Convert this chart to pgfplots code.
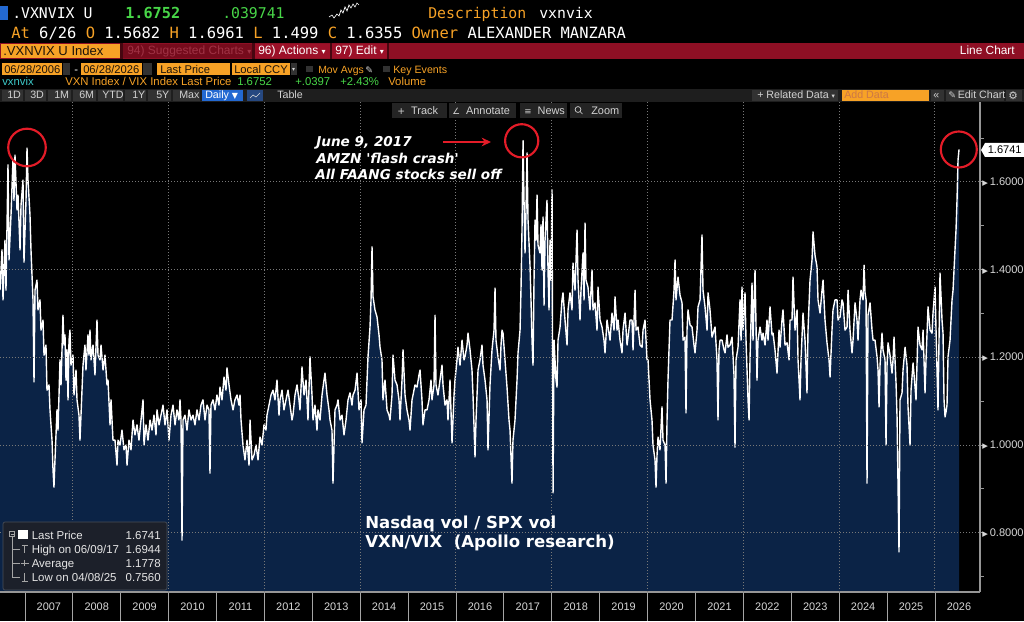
\documentclass[border=0pt]{standalone}
\usepackage{pgfplots}
\pgfplotsset{compat=1.18}
\usepackage{pgfplotstable}
\usepackage{fontspec}
\setmainfont{Liberation Sans}
\newfontfamily\mono{DejaVu Sans Mono}
\newfontfamily\dvs{DejaVu Sans}[Ligatures=TeXOff]
\usetikzlibrary{arrows.meta}
\newcommand{\fs}[1]{\fontsize{#1}{#1}\selectfont}
\newcommand{\tri}{{\dvs\fontsize{5.5}{5.5}\selectfont\char"25B6}\hspace{1.4pt}}
\definecolor{navy}{RGB}{11,35,70}
\definecolor{bbor}{RGB}{247,162,38}
\definecolor{bbgreen}{RGB}{72,214,72}
\definecolor{bbred}{RGB}{142,15,36}
\definecolor{bbred2}{RGB}{156,16,40}
\definecolor{bbsep}{RGB}{70,6,16}
\definecolor{bbdim}{RGB}{118,11,28}
\definecolor{bbdimtxt}{RGB}{160,50,68}
\definecolor{bbcyan}{RGB}{60,200,200}
\definecolor{bbblue}{RGB}{35,105,210}
\definecolor{bbicon}{RGB}{38,72,128}
\definecolor{gridc}{RGB}{120,120,120}
\definecolor{lab}{RGB}{215,215,215}
\definecolor{circ}{RGB}{228,28,40}
\definecolor{btn}{RGB}{50,50,50}
\definecolor{btn2}{RGB}{36,36,36}
\definecolor{bar}{RGB}{30,30,30}
\definecolor{btntxt}{RGB}{210,210,210}
\definecolor{darktxt}{RGB}{30,20,10}
\definecolor{addtxt}{RGB}{205,120,70}
\definecolor{axc}{RGB}{150,150,150}
\definecolor{tickc}{RGB}{165,165,165}
\definecolor{legbg}{RGB}{28,32,42}
\definecolor{legbd}{RGB}{72,78,88}
\definecolor{legtxt}{RGB}{230,230,230}
\tikzset{gridline/.style={draw=gridc, dash pattern=on 0.75pt off 1.5pt, line width=0.75pt}}

\pgfplotstableread[row sep=\\]{
x y\\
2006.480 1.353\\ 2006.522 1.445\\ 2006.543 1.331\\ 2006.584 1.467\\ 2006.605 1.353\\ 2006.647 1.639\\ 2006.668 1.422\\ 2006.710 1.525\\ 2006.751 1.650\\ 2006.772 1.558\\
2006.793 1.661\\ 2006.835 1.536\\ 2006.856 1.570\\ 2006.898 1.445\\ 2006.919 1.547\\ 2006.960 1.604\\ 2006.981 1.417\\ 2007.023 1.558\\ 2007.044 1.677\\ 2007.065 1.604\\
2007.106 1.525\\ 2007.127 1.445\\ 2007.169 1.331\\ 2007.190 1.144\\ 2007.211 1.353\\ 2007.252 1.376\\ 2007.273 1.308\\ 2007.315 1.331\\ 2007.336 1.262\\ 2007.378 1.285\\
2007.399 1.205\\ 2007.440 1.228\\ 2007.461 1.125\\ 2007.503 1.137\\ 2007.524 1.080\\ 2007.566 1.011\\ 2007.587 0.943\\ 2007.607 0.904\\ 2007.628 0.966\\ 2007.670 1.080\\
2007.691 1.034\\ 2007.733 1.194\\ 2007.754 1.137\\ 2007.795 1.296\\ 2007.816 1.228\\ 2007.837 1.251\\ 2007.858 1.148\\ 2007.879 1.217\\ 2007.900 1.103\\ 2007.921 1.239\\
2007.941 1.262\\ 2007.962 1.182\\ 2008.004 1.205\\ 2008.025 1.114\\ 2008.067 1.171\\ 2008.088 1.103\\ 2008.129 1.068\\ 2008.150 1.011\\ 2008.192 1.125\\ 2008.213 1.182\\
2008.254 1.228\\ 2008.275 1.171\\ 2008.317 1.251\\ 2008.338 1.205\\ 2008.359 1.262\\ 2008.380 1.194\\ 2008.422 1.228\\ 2008.463 1.160\\ 2008.505 1.285\\ 2008.526 1.205\\
2008.568 1.194\\ 2008.589 1.228\\ 2008.631 1.171\\ 2008.672 1.205\\ 2008.714 1.137\\ 2008.735 1.148\\ 2008.777 1.046\\ 2008.798 1.103\\ 2008.839 1.011\\ 2008.881 1.011\\
2008.923 0.954\\ 2008.944 1.011\\ 2008.985 1.000\\ 2009.027 1.034\\ 2009.069 0.989\\ 2009.111 1.000\\ 2009.132 0.954\\ 2009.173 1.011\\ 2009.215 0.989\\ 2009.257 1.057\\
2009.298 1.023\\ 2009.340 1.046\\ 2009.382 1.011\\ 2009.424 1.057\\ 2009.466 1.103\\ 2009.487 1.000\\ 2009.528 1.046\\ 2009.570 1.011\\ 2009.612 1.057\\ 2009.654 1.034\\
2009.695 1.068\\ 2009.737 1.023\\ 2009.758 1.080\\ 2009.800 1.046\\ 2009.841 1.068\\ 2009.883 1.091\\ 2009.925 1.046\\ 2009.967 1.080\\ 2010.008 1.011\\ 2010.050 1.068\\
2010.092 1.091\\ 2010.134 1.046\\ 2010.175 1.080\\ 2010.217 1.057\\ 2010.238 1.103\\ 2010.259 1.057\\ 2010.280 0.783\\ 2010.301 1.057\\ 2010.342 1.068\\ 2010.384 1.034\\
2010.426 1.080\\ 2010.468 1.057\\ 2010.509 1.068\\ 2010.551 1.046\\ 2010.593 1.080\\ 2010.635 1.057\\ 2010.676 1.091\\ 2010.718 1.103\\ 2010.760 1.057\\ 2010.802 1.091\\
2010.843 1.080\\ 2010.864 0.936\\ 2010.885 1.091\\ 2010.927 1.103\\ 2010.969 1.080\\ 2011.010 1.114\\ 2011.052 1.091\\ 2011.073 1.132\\ 2011.115 1.103\\ 2011.157 1.155\\
2011.198 1.125\\ 2011.219 1.176\\ 2011.261 1.137\\ 2011.303 1.103\\ 2011.345 1.080\\ 2011.386 1.103\\ 2011.428 1.114\\ 2011.470 1.091\\ 2011.491 1.114\\ 2011.512 1.057\\
2011.553 1.000\\ 2011.595 0.966\\ 2011.637 1.011\\ 2011.679 0.954\\ 2011.700 1.057\\ 2011.741 0.966\\ 2011.783 0.977\\ 2011.825 1.000\\ 2011.867 0.966\\ 2011.908 1.018\\
2011.950 1.000\\ 2011.992 1.046\\ 2012.033 1.034\\ 2012.054 1.068\\ 2012.096 1.091\\ 2012.138 1.114\\ 2012.180 1.125\\ 2012.221 1.103\\ 2012.263 1.148\\ 2012.305 1.068\\
2012.326 1.103\\ 2012.368 1.125\\ 2012.409 1.080\\ 2012.451 1.103\\ 2012.493 1.125\\ 2012.535 1.091\\ 2012.576 1.057\\ 2012.597 1.068\\ 2012.639 1.114\\ 2012.681 1.137\\
2012.722 1.103\\ 2012.743 1.080\\ 2012.785 1.178\\ 2012.827 1.114\\ 2012.869 1.148\\ 2012.910 1.057\\ 2012.952 1.201\\ 2012.994 1.114\\ 2013.015 1.057\\ 2013.056 1.091\\
2013.098 1.034\\ 2013.119 1.080\\ 2013.161 1.057\\ 2013.203 1.114\\ 2013.244 1.148\\ 2013.265 1.164\\ 2013.307 1.114\\ 2013.349 1.080\\ 2013.370 1.057\\ 2013.411 1.034\\
2013.432 0.913\\ 2013.474 1.080\\ 2013.516 1.091\\ 2013.537 1.103\\ 2013.579 1.057\\ 2013.620 1.068\\ 2013.662 1.023\\ 2013.704 1.057\\ 2013.746 1.103\\ 2013.787 1.119\\
2013.829 1.091\\ 2013.850 1.114\\ 2013.892 1.125\\ 2013.934 1.164\\ 2013.975 1.080\\ 2014.017 1.103\\ 2014.038 1.005\\ 2014.080 1.080\\ 2014.121 1.091\\ 2014.163 1.201\\
2014.205 1.269\\ 2014.226 1.331\\ 2014.247 1.452\\ 2014.268 1.338\\ 2014.309 1.308\\ 2014.351 1.292\\ 2014.393 1.251\\ 2014.414 1.223\\ 2014.455 1.194\\ 2014.476 1.103\\
2014.518 1.148\\ 2014.560 1.080\\ 2014.602 1.068\\ 2014.622 1.057\\ 2014.664 1.114\\ 2014.685 1.205\\ 2014.727 1.148\\ 2014.769 1.137\\ 2014.810 1.103\\ 2014.831 1.057\\
2014.873 1.148\\ 2014.894 1.217\\ 2014.936 1.114\\ 2014.977 1.080\\ 2015.019 1.057\\ 2015.040 1.034\\ 2015.082 1.103\\ 2015.103 1.114\\ 2015.144 1.137\\ 2015.186 1.132\\
2015.228 1.160\\ 2015.249 1.171\\ 2015.290 1.103\\ 2015.311 1.046\\ 2015.353 1.080\\ 2015.395 1.080\\ 2015.437 1.103\\ 2015.478 1.148\\ 2015.499 1.103\\ 2015.541 1.137\\
2015.562 1.296\\ 2015.583 1.137\\ 2015.624 1.114\\ 2015.666 1.148\\ 2015.708 1.182\\ 2015.729 1.137\\ 2015.771 1.091\\ 2015.812 1.103\\ 2015.833 1.057\\ 2015.875 1.148\\
2015.917 1.005\\ 2015.959 1.114\\ 2015.979 1.148\\ 2016.021 1.194\\ 2016.042 1.223\\ 2016.084 1.182\\ 2016.126 1.239\\ 2016.167 1.194\\ 2016.188 1.201\\ 2016.230 1.228\\
2016.251 1.255\\ 2016.293 1.217\\ 2016.334 1.171\\ 2016.355 1.114\\ 2016.397 0.973\\ 2016.418 1.057\\ 2016.460 1.171\\ 2016.501 1.194\\ 2016.543 1.228\\ 2016.564 1.182\\
2016.606 1.148\\ 2016.648 1.103\\ 2016.668 0.989\\ 2016.710 1.137\\ 2016.752 1.217\\ 2016.794 1.262\\ 2016.815 1.358\\ 2016.835 1.239\\ 2016.877 1.201\\ 2016.919 1.171\\
2016.940 1.228\\ 2016.961 1.262\\ 2016.982 1.255\\ 2017.023 1.194\\ 2017.065 1.132\\ 2017.107 1.057\\ 2017.128 1.034\\ 2017.169 0.913\\ 2017.190 1.011\\ 2017.232 1.057\\
2017.274 1.148\\ 2017.295 1.210\\ 2017.337 1.262\\ 2017.358 1.360\\ 2017.378 1.490\\ 2017.400 1.694\\ 2017.420 1.558\\ 2017.441 1.438\\ 2017.462 1.536\\ 2017.483 1.666\\
2017.504 1.513\\ 2017.545 1.410\\ 2017.566 1.331\\ 2017.587 1.239\\ 2017.608 1.182\\ 2017.629 1.376\\ 2017.650 1.513\\ 2017.671 1.467\\ 2017.692 1.570\\ 2017.712 1.456\\
2017.754 1.438\\ 2017.775 1.502\\ 2017.796 1.399\\ 2017.817 1.520\\ 2017.838 1.319\\ 2017.859 1.467\\ 2017.900 1.558\\ 2017.921 1.399\\ 2017.942 1.308\\ 2017.963 1.467\\
2017.984 1.376\\ 2018.005 1.582\\ 2018.026 0.891\\ 2018.047 1.239\\ 2018.088 1.148\\ 2018.109 1.132\\ 2018.130 1.239\\ 2018.172 1.269\\ 2018.213 1.331\\ 2018.234 1.347\\
2018.276 1.285\\ 2018.318 1.228\\ 2018.339 1.308\\ 2018.380 1.347\\ 2018.422 1.308\\ 2018.443 1.415\\ 2018.485 1.353\\ 2018.527 1.490\\ 2018.548 1.376\\ 2018.589 1.285\\
2018.610 1.353\\ 2018.652 1.438\\ 2018.673 1.331\\ 2018.694 1.506\\ 2018.714 1.376\\ 2018.756 1.360\\ 2018.798 1.308\\ 2018.840 1.399\\ 2018.861 1.308\\ 2018.902 1.324\\
2018.944 1.262\\ 2018.965 1.360\\ 2019.007 1.285\\ 2019.049 1.269\\ 2019.090 1.239\\ 2019.111 1.210\\ 2019.153 1.285\\ 2019.174 1.269\\ 2019.216 1.239\\ 2019.257 1.301\\
2019.299 1.262\\ 2019.320 1.338\\ 2019.362 1.262\\ 2019.383 1.285\\ 2019.424 1.239\\ 2019.466 1.210\\ 2019.487 1.262\\ 2019.529 1.301\\ 2019.571 1.228\\ 2019.592 1.246\\
2019.633 1.285\\ 2019.675 1.285\\ 2019.696 1.217\\ 2019.738 1.353\\ 2019.759 1.262\\ 2019.800 1.269\\ 2019.842 1.228\\ 2019.884 1.223\\ 2019.905 1.262\\ 2019.946 1.285\\
2019.988 1.194\\ 2020.009 1.194\\ 2020.051 1.103\\ 2020.092 1.057\\ 2020.113 1.000\\ 2020.155 0.966\\ 2020.176 0.904\\ 2020.197 0.977\\ 2020.218 1.018\\ 2020.259 0.989\\
2020.301 1.087\\ 2020.322 1.011\\ 2020.364 1.000\\ 2020.385 0.913\\ 2020.406 1.057\\ 2020.426 1.148\\ 2020.468 1.285\\ 2020.510 1.285\\ 2020.552 1.353\\ 2020.573 1.422\\
2020.593 1.331\\ 2020.635 1.383\\ 2020.677 1.342\\ 2020.719 1.324\\ 2020.740 1.239\\ 2020.781 1.246\\ 2020.802 1.073\\ 2020.823 1.262\\ 2020.844 1.308\\ 2020.886 1.274\\
2020.928 1.269\\ 2020.969 1.228\\ 2020.990 1.210\\ 2021.032 1.262\\ 2021.053 1.315\\ 2021.095 1.331\\ 2021.136 1.479\\ 2021.157 1.353\\ 2021.199 1.315\\ 2021.241 1.262\\
2021.262 1.347\\ 2021.303 1.308\\ 2021.345 1.246\\ 2021.387 1.262\\ 2021.408 1.269\\ 2021.449 1.194\\ 2021.470 1.057\\ 2021.491 1.217\\ 2021.512 1.239\\ 2021.554 1.239\\
2021.596 1.217\\ 2021.617 1.210\\ 2021.658 1.251\\ 2021.679 1.223\\ 2021.721 1.228\\ 2021.763 1.246\\ 2021.804 1.160\\ 2021.825 0.995\\ 2021.846 1.194\\ 2021.888 1.223\\
2021.930 1.331\\ 2021.951 1.239\\ 2021.971 1.360\\ 2021.992 1.262\\ 2022.034 1.347\\ 2022.055 1.239\\ 2022.097 1.103\\ 2022.118 1.057\\ 2022.138 1.194\\ 2022.180 1.369\\
2022.201 1.239\\ 2022.243 1.399\\ 2022.284 1.148\\ 2022.305 1.239\\ 2022.347 1.269\\ 2022.389 1.239\\ 2022.410 1.255\\ 2022.452 1.228\\ 2022.493 1.285\\ 2022.514 1.239\\
2022.556 1.315\\ 2022.598 1.251\\ 2022.619 1.255\\ 2022.660 1.217\\ 2022.702 1.164\\ 2022.744 1.262\\ 2022.765 1.223\\ 2022.806 1.285\\ 2022.827 1.308\\ 2022.869 1.228\\
2022.911 1.233\\ 2022.953 1.194\\ 2022.974 1.285\\ 2023.015 1.285\\ 2023.036 1.383\\ 2023.078 1.262\\ 2023.120 1.308\\ 2023.141 1.194\\ 2023.182 1.103\\ 2023.203 1.194\\
2023.245 1.301\\ 2023.287 1.239\\ 2023.328 1.119\\ 2023.349 1.262\\ 2023.391 1.376\\ 2023.433 1.422\\ 2023.454 1.486\\ 2023.495 1.433\\ 2023.537 1.406\\ 2023.558 1.331\\
2023.600 1.301\\ 2023.642 1.353\\ 2023.663 1.376\\ 2023.704 1.285\\ 2023.746 1.233\\ 2023.788 1.194\\ 2023.809 1.155\\ 2023.850 1.262\\ 2023.871 1.308\\ 2023.913 1.331\\
2023.955 1.331\\ 2023.976 1.285\\ 2024.018 1.292\\ 2024.059 1.331\\ 2024.080 1.324\\ 2024.122 1.262\\ 2024.164 1.269\\ 2024.185 1.353\\ 2024.226 1.262\\ 2024.268 1.210\\
2024.289 1.239\\ 2024.331 1.324\\ 2024.372 1.285\\ 2024.393 1.239\\ 2024.435 1.331\\ 2024.456 1.353\\ 2024.498 1.331\\ 2024.519 1.410\\ 2024.540 1.347\\ 2024.561 1.331\\
2024.581 0.913\\ 2024.602 1.296\\ 2024.644 1.324\\ 2024.686 1.262\\ 2024.707 1.239\\ 2024.748 1.239\\ 2024.790 1.201\\ 2024.811 1.171\\ 2024.832 1.087\\ 2024.853 1.182\\
2024.894 1.255\\ 2024.915 1.217\\ 2024.957 1.194\\ 2024.978 1.000\\ 2024.999 1.182\\ 2025.020 1.233\\ 2025.061 1.205\\ 2025.103 1.164\\ 2025.124 1.194\\ 2025.145 1.246\\
2025.187 1.141\\ 2025.208 1.064\\ 2025.249 0.756\\ 2025.270 1.103\\ 2025.312 1.119\\ 2025.333 1.171\\ 2025.375 1.223\\ 2025.416 1.182\\ 2025.437 1.087\\ 2025.479 1.000\\
2025.500 1.125\\ 2025.542 1.187\\ 2025.584 1.132\\ 2025.604 1.103\\ 2025.646 1.269\\ 2025.688 1.228\\ 2025.730 1.217\\ 2025.751 1.262\\ 2025.792 1.119\\ 2025.813 1.194\\
2025.855 1.315\\ 2025.897 1.262\\ 2025.938 1.255\\ 2025.959 1.301\\ 2026.001 1.360\\ 2026.022 1.262\\ 2026.063 1.080\\ 2026.084 1.239\\ 2026.105 1.392\\ 2026.147 1.285\\
2026.168 1.255\\ 2026.189 1.103\\ 2026.210 1.064\\ 2026.230 1.075\\ 2026.251 1.091\\ 2026.272 1.201\\ 2026.314 1.239\\ 2026.356 1.331\\ 2026.377 1.353\\ 2026.418 1.445\\
2026.439 1.490\\ 2026.460 1.558\\ 2026.481 1.650\\ 2026.502 1.674\\
}\vxdata

\begin{document}
\begin{tikzpicture}
\useasboundingbox (0,0) rectangle (768pt,465.75pt);
\fill[black] (0,0) rectangle (768pt,465.75pt);
\begin{axis}[
  at={(0pt,21.75pt)}, anchor=south west,
  width=735pt, height=367.5pt, scale only axis,
  xmin=2006.48, xmax=2026.94,
  ymin=0.6648, ymax=1.7822,
  axis x line*=bottom, axis y line*=right,
  axis line style={draw=axc, line width=0.8pt, -},
  axis on top,
  tick align=inside,
  major tick length=-3pt,
  minor tick length=-21.75pt,
  xtick={2007,2008,2009,2010,2011,2012,2013,2014,2015,2016,2017,2018,2019,2020,2021,2022,2023,2024,2025,2026},
  minor xtick={2007,2008,2009,2010,2011,2012,2013,2014,2015,2016,2017,2018,2019,2020,2021,2022,2023,2024,2025,2026},
  xticklabels={2007,2008,2009,2010,2011,2012,2013,2014,2015,2016,2017,2018,2019,2020,2021,2022,2023,2024,2025,2026},
  xticklabel style={font=\fs{8.2}, text=lab, xshift=17.96pt, yshift=-4.8pt},
  ytick={0.8,1.0,1.2,1.4,1.6},
  yticklabels={{\tri 0.8000},{\tri 1.0000},{\tri 1.2000},{\tri 1.4000},{\tri 1.6000}},
  ymajorgrids=true,
  yticklabel style={font=\fs{8.3}, text=lab, anchor=west, inner sep=0pt, xshift=1.5pt},
  xtick style={draw=tickc, line width=0.6pt},
  ytick style={draw=axc, line width=0.6pt},
  extra x ticks={2008,2010,2012,2014,2016,2018,2020,2022,2024,2026},
  extra x tick labels={},
  extra x tick style={grid=major, major tick length=0pt},
  extra y ticks={0.7,0.9,1.1,1.3,1.5,1.7},
  extra y tick labels={},
  extra y tick style={grid=none},
  major grid style={gridline},
  scaled y ticks=false,
  /pgf/number format/assume math mode=true,
]
\addplot[fill=navy, draw=none] table {\vxdata} \closedcycle;
\addplot[white, line width=1.05pt, line join=round] table {\vxdata};
\draw[gridline] (axis cs:2006.48,0.8) -- (axis cs:2026.94,0.8);
\draw[gridline] (axis cs:2006.48,1.0) -- (axis cs:2026.94,1.0);
\draw[gridline] (axis cs:2006.48,1.2) -- (axis cs:2026.94,1.2);
\draw[gridline] (axis cs:2006.48,1.4) -- (axis cs:2026.94,1.4);
\draw[gridline] (axis cs:2006.48,1.6) -- (axis cs:2026.94,1.6);
\end{axis}

\begin{scope}[x=0.75pt,y=-0.75pt,shift={(0pt,465.75pt)}]
% ---- row 1
\fill[bbblue] (0,6) rectangle (8,20);
\node[anchor=base west, inner sep=0, text=white, font=\mono\fs{11.1}] at (12,18.3) {.VXNVIX U};
\node[anchor=base west, inner sep=0, text=bbgreen, font=\mono\bfseries\fs{11.4}] at (125,18.3) {1.6752};
\node[anchor=base west, inner sep=0, text=bbgreen, font=\mono\fs{11.1}] at (222,18.3) {.039741};
\draw[white, line width=0.5pt] (329,17) -- (332,15) -- (334,18) -- (337,14) -- (339,16) -- (341,10) -- (343,13) -- (345,7) -- (347,11) -- (349,5) -- (351,8) -- (353,4) -- (355,7) -- (357,3) -- (359,5);
\node[anchor=base west, inner sep=0, text=bbor, font=\mono\fs{11.1}] at (428,18.3) {Description};
\node[anchor=base west, inner sep=0, text=white, font=\mono\fs{11.1}] at (539,18.3) {vxnvix};
% ---- row 2
\node[anchor=base west, inner sep=0, text=white, font=\mono\fs{11.6}] at (11,38.3) {\textcolor{bbor}{At} 6/26 \textcolor{bbor}{O} 1.5682 \textcolor{bbor}{H} 1.6961 \textcolor{bbor}{L} 1.499 \textcolor{bbor}{C} 1.6355 \textcolor{bbor}{Owner} ALEXANDER MANZARA};
% ---- row 3 red bar
\fill[bbred] (0,43) rectangle (1024,59);
\fill[bbsep] (120,43) rectangle (123,59);
\fill[bbsep] (252,43) rectangle (255,59);
\fill[bbsep] (330,43) rectangle (332,59);
\fill[bbsep] (387,43) rectangle (389,59);
\fill[bbor] (1,44) rectangle (120,58);
\node[anchor=base west, inner sep=0, text=darktxt, font=\fs{9.8}] at (3,55.5) {.VXNVIX U Index};
\fill[bbdim] (123,44) rectangle (252,58);
\node[anchor=base west, inner sep=0, text=bbdimtxt, font=\fs{9}] at (127,55) {94) Suggested Charts {\dvs\fs{6}▾}};
\fill[bbred2] (255,44) rectangle (330,58);
\node[anchor=base west, inner sep=0, text=white, font=\fs{9}] at (258,55) {96) Actions {\dvs\fs{6}▾}};
\fill[bbred2] (332,44) rectangle (387,58);
\node[anchor=base west, inner sep=0, text=white, font=\fs{9}] at (335,55) {97) Edit {\dvs\fs{6}▾}};
\node[anchor=base east, inner sep=0, text=white, font=\fs{8.9}] at (1015,55) {Line Chart};
% ---- row 4
\fill[bbor] (2,63) rectangle (62,75);
\node[anchor=base west, inner sep=0, text=darktxt, font=\fs{8.4}] at (4,73.5) {06/28/2006};
\fill[btn] (63,63) rectangle (70,75);
\node[anchor=base west, inner sep=0, text=white, font=\fs{8.4}] at (74,73.5) {-};
\fill[bbor] (81,63) rectangle (142,75);
\node[anchor=base west, inner sep=0, text=darktxt, font=\fs{8.4}] at (83,73.5) {06/28/2026};
\fill[btn] (143,63) rectangle (152,75);
\fill[bbor] (157,63) rectangle (230,75);
\node[anchor=base west, inner sep=0, text=darktxt, font=\fs{8.4}] at (160,73.5) {Last Price};
\fill[bbor] (232,63) rectangle (290,75);
\node[anchor=base west, inner sep=0, text=darktxt, font=\fs{8.4}] at (234,73.5) {Local CCY};
\fill[btn] (291,63) rectangle (297,75);
\node[anchor=base west, inner sep=0, text=lab, font=\dvs\fs{4.5}] at (291.8,71.5) {▾};
\fill[btn] (306,66) rectangle (313,72);
\node[anchor=base west, inner sep=0, text=bbor, font=\fs{7.8}] at (318,73.5) {Mov Avgs};
\node[anchor=base west, inner sep=0, text=lab, font=\dvs\fs{7}] at (365,73.5) {✎};
\fill[btn] (383,66) rectangle (390,72);
\node[anchor=base west, inner sep=0, text=bbor, font=\fs{8}] at (393,73.5) {Key Events};
% ---- row 5
\node[anchor=base west, inner sep=0, text=bbcyan, font=\fs{8.5}] at (2,86) {vxnvix};
\node[anchor=base west, inner sep=0, text=bbor, font=\fs{8.5}] at (65,86) {VXN Index / VIX Index Last Price};
\node[anchor=base west, inner sep=0, text=bbgreen, font=\fs{8.5}] at (237,86) {1.6752};
\node[anchor=base west, inner sep=0, text=bbgreen, font=\fs{8.5}] at (295,86) {+.0397};
\node[anchor=base west, inner sep=0, text=bbgreen, font=\fs{8.5}] at (340,86) {+2.43\%};
\node[anchor=base west, inner sep=0, text=bbor, font=\fs{8.5}] at (388,86) {Volume};
% ---- row 6 toolbar
\fill[bar] (0,89) rectangle (1024,102);
\foreach \a/\b/\t/\l in {2/23/7/1D, 25/46/30/3D, 48/71/54/1M, 73/96/79/6M, 98/123/102/YTD, 125/146/132/1Y, 148/171/156/5Y, 173/200/179/Max}{
  \fill[btn] (\a,90) rectangle (\b,101);
  \node[anchor=base west, inner sep=0, text=btntxt, font=\fs{8}] at (\t,99) {\l};
}
\fill[bbblue] (202,90) rectangle (243,101);
\node[anchor=base west, inner sep=0, text=white, font=\fs{8}] at (205,99) {Daily {\dvs\fs{6}▼}};
\fill[bbicon] (247,90) rectangle (263,101);
\draw[lab, line width=0.5pt] (250,98) -- (253,95) -- (256,97) -- (260,93);
\node[anchor=base west, inner sep=0, text=btntxt, font=\fs{8}] at (277,99) {Table};
\fill[btn] (752,90) rectangle (838,101);
\node[anchor=base west, inner sep=0, text=btntxt, font=\fs{8}] at (757,99) {+ Related Data {\dvs\fs{5}▾}};
\fill[bbor] (842,90) rectangle (929,101);
\node[anchor=base west, inner sep=0, text=addtxt, font=\fs{8}] at (844,99) {Add Data};
\fill[btn] (931,90) rectangle (944,101);
\node[anchor=base west, inner sep=0, text=btntxt, font=\fs{8}] at (933,99) {«};
\fill[btn] (946,90) rectangle (1004,101);
\node[anchor=base west, inner sep=0, text=btntxt, font=\fs{8}] at (948,99) {{\dvs\fs{7}✎}\,Edit Chart};
\fill[btn] (1006,90) rectangle (1022,101);
\node[anchor=base west, inner sep=0, text=btntxt, font=\dvs\fs{8}] at (1008,99.5) {⚙};
% ---- row 7 buttons
\fill[btn2] (392,103) rectangle (447,118);
\node[anchor=base west, inner sep=0, text=btntxt, font=\fs{8.2}] at (397,115) {{\dvs\fs{7}+}\ \ Track};
\fill[btn2] (449,103) rectangle (516,118);
\node[anchor=base west, inner sep=0, text=btntxt, font=\fs{8.2}] at (452,115) {{\dvs\fs{6.5}∠}\ \ Annotate};
\fill[btn2] (520,103) rectangle (567,118);
\node[anchor=base west, inner sep=0, text=btntxt, font=\fs{8.2}] at (524,115) {{\dvs\fs{6.5}≡}\ \ News};
\fill[btn2] (570,103) rectangle (622,118);
\draw[lab, line width=0.5pt] (578,109.5) circle [radius=2.2pt] (580.3,111.8) -- (582.5,114);
\node[anchor=base west, inner sep=0, text=btntxt, font=\fs{8.2}] at (591,115) {Zoom};
% ---- last price box on right axis
\fill[white] (981,150) -- (985,143) -- (1024,143) -- (1024,157) -- (985,157) -- cycle;
\node[anchor=west, inner sep=0, text=black, font=\fs{8.3}] at (987.5,150) {1.6741};
% ---- red circles and arrow
\draw[circ, line width=1.6pt] (27,147.5) circle [radius=14.1pt];
\draw[circ, line width=1.6pt] (521.7,140.8) circle [radius=12.45pt];
\draw[circ, line width=1.6pt] (958.8,149.5) circle [radius=13.5pt];
\draw[circ, line width=1.5pt, -{Stealth[length=7pt,width=6.5pt]}] (443,142) -- (491,142);
% ---- annotation text
\node[anchor=base west, inner sep=0, text=white, font=\dvs\bfseries\itshape\fs{10.2}] at (316,147) {June 9, 2017};
\node[anchor=base west, inner sep=0, text=white, font=\dvs\bfseries\itshape\fs{10.2}] at (316,164) {AMZN 'flash crash'};
\node[anchor=base west, inner sep=0, text=white, font=\dvs\bfseries\itshape\fs{10.2}] at (315,180) {All FAANG stocks sell off};
\node[anchor=base west, inner sep=0, text=white, font=\dvs\bfseries\fs{12.4}] at (365,529) {Nasdaq vol / SPX vol};
\node[anchor=base west, inner sep=0, text=white, font=\dvs\bfseries\fs{12.4}] at (365,548) {VXN/VIX\ \ (Apollo research)};
% ---- legend box
\fill[fill=legbg, draw=legbd, line width=0.5pt, rounded corners=1.5pt] (3,522) rectangle (167,590);
\fill[white] (18,530) rectangle (28,539);
\draw[tickc, line width=0.5pt] (9.5,531.5) rectangle (14.5,536.5) (10.5,534) -- (13.5,534);
\draw[tickc, line width=0.5pt] (12,536.5) -- (12,577) (12,549) -- (20,549) (12,563) -- (20,563) (12,577) -- (20,577);
\draw[tickc, line width=0.6pt] (21.5,545) -- (27.5,545) (24.5,545) -- (24.5,553);
\draw[tickc, line width=0.6pt] (20.5,563) -- (28.5,563) (24.5,560) -- (24.5,566);
\draw[tickc, line width=0.6pt] (21.5,581) -- (27.5,581) (24.5,573) -- (24.5,581);
\node[anchor=base west, inner sep=0, text=legtxt, font=\fs{8.6}] at (31.5,540) {Last Price};
\node[anchor=base west, inner sep=0, text=legtxt, font=\fs{8.6}] at (31.5,553.5) {High on 06/09/17};
\node[anchor=base west, inner sep=0, text=legtxt, font=\fs{8.6}] at (31.5,567) {Average};
\node[anchor=base west, inner sep=0, text=legtxt, font=\fs{8.6}] at (31.5,581) {Low on 04/08/25};
\node[anchor=base east, inner sep=0, text=legtxt, font=\fs{8.6}] at (161,540) {1.6741};
\node[anchor=base east, inner sep=0, text=legtxt, font=\fs{8.6}] at (161,553.5) {1.6944};
\node[anchor=base east, inner sep=0, text=legtxt, font=\fs{8.6}] at (161,567) {1.1778};
\node[anchor=base east, inner sep=0, text=legtxt, font=\fs{8.6}] at (161,581) {0.7560};
\end{scope}
\end{tikzpicture}
\end{document}
